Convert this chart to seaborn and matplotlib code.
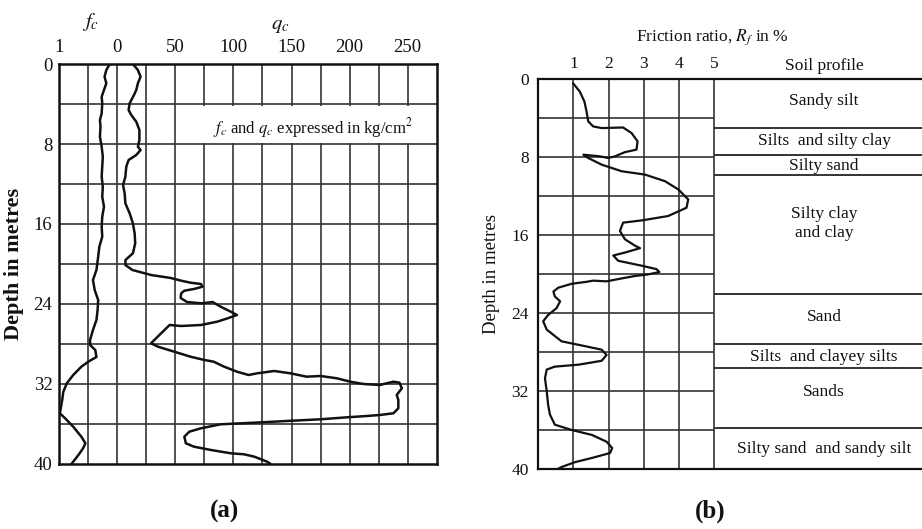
import matplotlib
matplotlib.use("Agg")
import matplotlib.pyplot as plt
import seaborn as sns
from matplotlib.patches import Rectangle

# ---------------------------------------
# Data
# ---------------------------------------

# (a) cone resistance q_c (kg/cm2) against depth (m)
depth_qc = [0, 0.6, 1.27, 1.93, 2.6, 3.1, 3.93, 4.6, 5.1, 5.77, 6.6, 7.6, 8.27, 8.6,
            9.1, 9.6, 10.27, 11.27, 12.1, 12.93, 13.93, 14.93, 15.93, 16.93, 17.93,
            18.93, 19.6, 20.1, 20.6, 21.1, 21.4, 21.67, 21.87, 22.0, 22.27, 22.5,
            22.67, 22.93, 23.4, 23.8, 23.93, 23.85, 23.8, 24.27, 24.77, 25.1, 25.43,
            25.77, 26.1, 26.2, 26.1, 26.93, 27.93, 28.27, 28.77, 29.27, 29.6, 29.77,
            30.27, 30.77, 31.1, 30.93, 30.7, 30.93, 31.27, 31.2, 31.43, 31.77, 32.0,
            32.1, 31.93, 31.77, 31.87, 32.43, 33.1, 33.6, 34.43, 34.93, 35.1, 35.2,
            35.33, 35.53, 35.7, 35.87, 36.03, 36.43, 36.77, 37.27, 37.93, 38.27,
            38.6, 38.93, 39.03, 39.27, 39.77, 40]
qc = [13.4, 17.7, 20, 17.7, 16.3, 14.3, 10.6, 9.7, 12, 16.3, 19, 19, 17.7, 20,
      16.3, 9.7, 7.7, 6.9, 4.9, 6.3, 6.9, 10.6, 13.4, 14.9, 15.4,
      13.4, 7, 6.9, 13, 29, 46, 55, 63, 72, 73.4, 66,
      57.7, 55, 54.5, 60, 72, 79, 82, 89, 97.7, 103, 95,
      86, 72, 55, 45, 37.7, 29, 35, 49, 63, 75, 83,
      92, 103, 113, 120.6, 135, 149, 163, 175, 189, 200.6, 212,
      226, 232, 237.7, 243, 245, 240.6, 242, 242, 237.7, 226, 215,
      198, 175, 146, 118, 89, 72, 62, 57.7, 59, 66,
      80.6, 97.7, 109, 118, 129, 132]

# (a) sleeve friction f_c (kg/cm2) against depth (m)
depth_fc = [0, 0.6, 1.27, 1.93, 2.6, 3.27, 3.93, 4.93, 5.6, 6.27, 7.27, 8.27, 9.27,
            10.27, 11.27, 12.27, 13.27, 14.27, 15.27, 16.27, 17.27, 18.27, 19.27,
            20.6, 21.6, 22.6, 23.6, 24.6, 25.6, 26.6, 27.6, 28.1, 28.6, 29.3, 29.77,
            30.27, 31.1, 31.93, 32.77, 33.6, 34.27, 34.93, 35.43, 36.27, 37.27,
            37.93, 38.43, 39.1, 39.77, 40]
fc = [0.13, 0.19, 0.22, 0.19, 0.23, 0.27, 0.26, 0.27, 0.30, 0.29, 0.30, 0.27, 0.25,
      0.26, 0.27, 0.25, 0.26, 0.23, 0.26, 0.27, 0.26, 0.31, 0.33,
      0.36, 0.42, 0.39, 0.33, 0.34, 0.36, 0.42, 0.47, 0.47, 0.38, 0.36, 0.50,
      0.62, 0.76, 0.87, 0.93, 0.95, 0.97, 0.99, 0.90, 0.76, 0.62,
      0.55, 0.59, 0.67, 0.76, 0.79]

# (b) friction ratio R_f (%) against depth (m)
depth_rf = [0.44, 1.29, 2.3, 3.3, 4.35, 4.86, 5.03, 4.97, 5.54, 6.39, 7.24, 7.5, 7.93,
            8.1, 7.93, 7.76, 8.1, 8.78, 9.46, 9.8, 10.48, 11.33, 12.35, 13.2, 14.05,
            14.5, 14.73, 15.58, 16.43, 17.1, 17.35, 17.8, 18.1, 18.64, 19.15, 19.5,
            19.8, 20.05, 20.2, 20.45, 20.75, 20.68, 20.8, 21.0, 21.4, 21.8, 22.3,
            22.8, 23.5, 24.2, 24.85, 25.7, 26.9, 27.4, 27.76, 28.3, 28.9, 29.3, 29.5,
            29.8, 30.7, 32.0, 33.4, 34.4, 35.45, 36.0, 36.5, 37.2, 37.85, 38.36,
            38.87, 39.3, 39.8, 40]
rf = [0.99, 1.18, 1.31, 1.37, 1.42, 1.56, 1.8, 2.41, 2.65, 2.82, 2.79, 2.46, 2.18,
      1.99, 1.75, 1.28, 1.42, 1.8, 2.37, 3.03, 3.6, 3.98, 4.26, 4.21, 3.69,
      2.94, 2.41, 2.32, 2.46, 2.75, 2.89, 2.46, 2.13, 2.27, 2.94, 3.36,
      3.44, 3.1, 2.75, 2.37, 1.94, 1.56, 1.37, 0.95, 0.57, 0.43, 0.47,
      0.62, 0.52, 0.28, 0.14, 0.24, 0.66, 1.33, 1.8, 1.94, 1.8, 1.14, 0.47,
      0.24, 0.19, 0.24, 0.28, 0.33, 0.47, 0.95, 1.52, 1.94, 2.1, 2.04,
      1.52, 1.04, 0.66, 0.55]

# (b) soil profile
layer_bounds = [5.0, 7.8, 9.8, 22.1, 27.2, 29.6, 35.8]
layer_names = ["Sandy silt", "Silts  and silty clay", "Silty sand",
               "Silty clay\nand clay", "Sand", "Silts  and clayey silts",
               "Sands", "Silty sand  and sandy silt"]
layer_label_depth = [2.3, 6.35, 8.9, 14.8, 24.4, 28.5, 32.1, 37.9]

# axes scales, ticks and grids
depth_ticks = [0, 8, 16, 24, 32, 40]
depth_grid = [4, 8, 12, 16, 20, 24, 28, 32, 36]
qc_ticks = [50, 100, 150, 200, 250]
qc_grid = [-25, 0, 25, 50, 75, 100, 125, 150, 175, 200, 225, 250]
fc_ticks = [1, 0]
rf_ticks = [1, 2, 3, 4, 5]

# ---------------------------------------
# Style
# ---------------------------------------

sns.set_theme(style="white")
plt.rcParams["font.family"] = ["Liberation Serif", "DejaVu Serif"]
plt.rcParams["mathtext.fontset"] = "stix"

ink = "#111111"
grid_col = "#333333"

fig = plt.figure(figsize=(9.22, 5.29), dpi=100)

# ---------------------------------------
# Panel (a): f_c and q_c profile
# ---------------------------------------

ax_a = fig.add_axes([0.0643, 0.1229, 0.4093, 0.7561])
ax_fc = ax_a.twiny()

ax_a.vlines(qc_grid, 0, 40, color=grid_col, lw=1.2, zorder=1)
ax_a.hlines(depth_grid, -50, 275, color=grid_col, lw=1.2, zorder=1)
# white space behind the units note
ax_a.add_patch(Rectangle((72, 4.15), 203, 3.7, facecolor="white",
                         edgecolor="none", zorder=1.5))
sns.lineplot(x=qc, y=depth_qc, ax=ax_a, sort=False, estimator=None,
             color=ink, lw=1.8, zorder=3)
ax_a.set_xlim(-50, 275)
ax_a.set_ylim(40, 0)
ax_a.xaxis.tick_top()
ax_a.set_xticks(qc_ticks)
ax_a.set_xticklabels([str(v) for v in qc_ticks])
ax_a.set_yticks(depth_ticks)
ax_a.set_yticklabels([str(v) for v in depth_ticks])
ax_a.tick_params(length=0, labelsize=13.5, colors=ink)
ax_a.tick_params(axis="x", pad=6)
ax_a.tick_params(axis="y", pad=5)
ax_a.set_xlabel("")
ax_a.set_ylabel("Depth in metres", fontsize=16, fontweight="bold",
                color=ink, labelpad=7)
for s in ax_a.spines.values():
    s.set_color(ink)
    s.set_linewidth(1.8)

ax_a.text(82, 6.4, r"$f_c$ and $q_c$ expressed in kg/cm$^2$", fontsize=12,
          ha="left", va="center", color=ink, zorder=4)
ax_a.text(140, -3.9, r"$q_c$", fontsize=15, ha="center", va="center", color=ink)

sns.lineplot(x=fc, y=depth_fc, ax=ax_fc, sort=False, estimator=None,
             color=ink, lw=1.8, zorder=3)
ax_fc.set_xlim(1, -5.5)
ax_fc.set_ylim(40, 0)
ax_fc.xaxis.tick_top()
ax_fc.set_xticks(fc_ticks)
ax_fc.set_xticklabels([str(v) for v in fc_ticks])
ax_fc.tick_params(length=0, labelsize=13.5, colors=ink, pad=6)
ax_fc.set_xlabel("")
ax_fc.set_ylabel("")
for s in ax_fc.spines.values():
    s.set_visible(False)
ax_fc.text(0.47, -4.2, r"$f_c$", fontsize=15, ha="center", va="center", color=ink)

# ---------------------------------------
# Panel (b): friction ratio and soil profile
# ---------------------------------------

ax_b = fig.add_axes([0.5838, 0.1134, 0.4292, 0.7372])
ax_b.vlines(rf_ticks, 0, 40, color=grid_col, lw=1.2, zorder=1)
ax_b.hlines(depth_grid, 0, 5, color=grid_col, lw=1.2, zorder=1)
ax_b.hlines(layer_bounds, 5, 11.24, color=grid_col, lw=1.4, zorder=1)
sns.lineplot(x=rf, y=depth_rf, ax=ax_b, sort=False, estimator=None,
             color=ink, lw=1.6, zorder=3)
ax_b.set_xlim(0, 11.24)
ax_b.set_ylim(40, 0)
ax_b.xaxis.tick_top()
ax_b.set_xticks(rf_ticks)
ax_b.set_xticklabels([str(v) for v in rf_ticks])
ax_b.set_yticks(depth_ticks)
ax_b.set_yticklabels([str(v) for v in depth_ticks])
ax_b.tick_params(length=0, labelsize=12.5, colors=ink)
ax_b.tick_params(axis="x", pad=5)
ax_b.tick_params(axis="y", pad=7)
ax_b.set_xlabel("")
ax_b.set_ylabel("Depth in metres", fontsize=13.5, color=ink, labelpad=8)
for s in ax_b.spines.values():
    s.set_color(ink)
    s.set_linewidth(1.6)

ax_b.text(4.96, -4.3, r"Friction ratio, $R_f$ in %", fontsize=12.5,
          ha="center", va="center", color=ink)
ax_b.text(8.12, -1.35, "Soil profile", fontsize=12.5,
          ha="center", va="center", color=ink)
for name, d in zip(layer_names, layer_label_depth):
    ax_b.text(8.12, d, name, fontsize=12.5, ha="center", va="center",
              color=ink, linespacing=1.3)

# ---------------------------------------
# Panel letters
# ---------------------------------------

fig.text(0.244, 0.034, "(a)", fontsize=18, fontweight="bold",
         ha="center", va="center", color=ink)
fig.text(0.770, 0.034, "(b)", fontsize=18, fontweight="bold",
         ha="center", va="center", color=ink)

fig.savefig("out.png", dpi=100)
